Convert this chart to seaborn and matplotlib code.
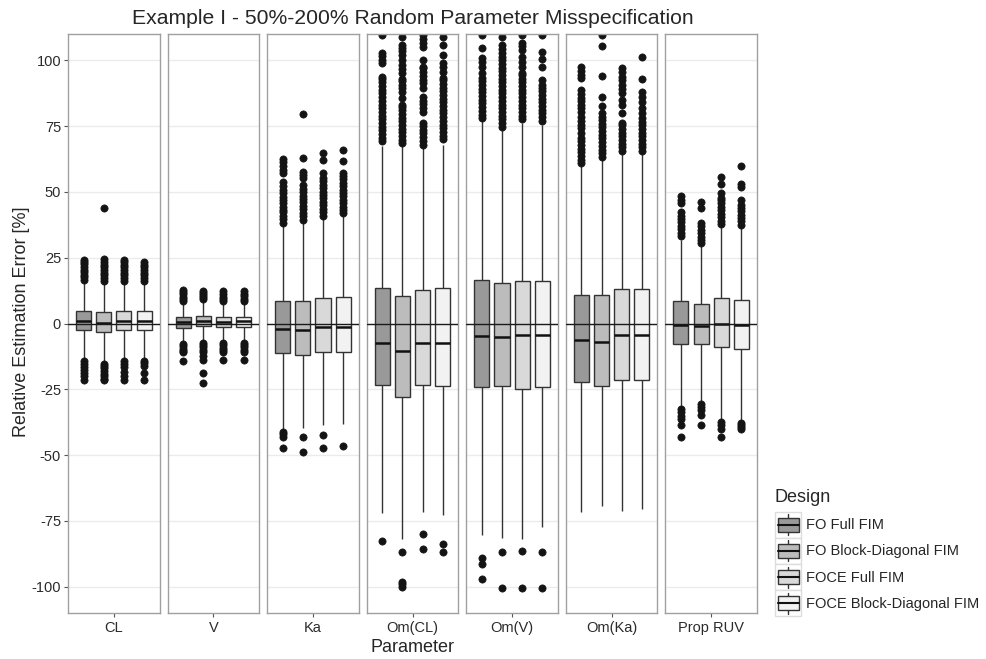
import pandas as pd
import matplotlib
matplotlib.use("Agg")
import matplotlib.pyplot as plt
import seaborn as sns
from matplotlib.patches import Patch, Rectangle
from matplotlib.lines import Line2D
from matplotlib.legend_handler import HandlerBase

# Categories
params = ["CL", "V", "Ka", "Om(CL)", "Om(V)", "Om(Ka)", "Prop RUV"]
designs = ["FO Full FIM", "FO Block-Diagonal FIM", "FOCE Full FIM", "FOCE Block-Diagonal FIM"]
fills = ["#999999", "#BCBCBC", "#D9D9D9", "#F2F2F2"]

# Box summaries: rows = parameter, columns = design
q1 = [
    [-2.5, -3.3, -2.5, -2.5],
    [-1.6, -1.0, -1.4, -1.3],
    [-11.2, -11.9, -11.0, -11.0],
    [-23.2, -28.0, -23.5, -23.8],
    [-24.2, -23.8, -24.7, -24.2],
    [-22.2, -23.6, -21.4, -21.4],
    [-7.7, -7.6, -9.1, -9.5],
]
med = [
    [1.0, 0.3, 1.0, 1.1],
    [0.5, 0.9, 0.5, 0.9],
    [-1.9, -2.3, -1.3, -1.3],
    [-7.3, -10.5, -7.3, -7.3],
    [-4.6, -5.1, -4.4, -4.4],
    [-6.3, -7.1, -4.4, -4.4],
    [-0.6, -1.0, -0.3, -0.6],
]
q3 = [
    [4.9, 4.4, 4.9, 4.9],
    [2.3, 3.0, 2.4, 2.5],
    [8.5, 8.5, 9.6, 10.0],
    [13.6, 10.4, 12.9, 13.6],
    [16.5, 15.5, 16.1, 16.1],
    [10.8, 10.8, 13.2, 13.2],
    [8.5, 7.3, 9.5, 9.1],
]
whis_lo = [
    [-13.0, -14.5, -13.0, -13.0],
    [-7.0, -6.8, -7.0, -6.8],
    [-40.0, -39.6, -38.5, -38.0],
    [-72.0, -82.0, -71.5, -72.9],
    [-80.5, -81.6, -82.0, -77.4],
    [-71.6, -69.5, -71.1, -70.3],
    [-31.5, -29.5, -36.5, -36.5],
]
whis_hi = [
    [15.5, 15.5, 15.5, 15.5],
    [8.0, 8.8, 8.0, 8.0],
    [37.5, 38.8, 40.2, 41.0],
    [67.5, 67.4, 66.5, 68.0],
    [77.0, 73.8, 76.0, 75.3],
    [60.0, 62.0, 64.5, 64.6],
    [31.7, 29.5, 36.5, 36.5],
]

# Outliers (one list per design)
cl_hi = [
    [16.5, 17.5, 18.5, 19.5, 20.5, 21.5, 22.5, 23.5, 24.3],
    [16.3, 17.3, 18.3, 19.3, 20.3, 21.3, 22.3, 23.3, 24.5, 44.0],
    [16.3, 17.3, 18.3, 19.3, 20.3, 21.3, 22.3, 23.3, 24.0],
    [16.3, 17.3, 18.3, 19.3, 20.3, 21.3, 22.3, 23.5],
]
cl_lo = [
    [-14.2, -15.3, -16.5, -17.6, -18.8, -20.0, -21.3],
    [-15.2, -16.0, -17.0, -18.0, -19.0, -20.0, -21.0, -21.5],
    [-14.2, -15.3, -16.5, -18.5, -20.0, -21.3],
    [-14.2, -15.0, -16.0, -18.8, -21.3],
]
v_hi = [
    [8.4, 9.3, 10.2, 11.1, 12.0, 12.6],
    [9.3, 10.1, 10.9, 11.7, 12.5],
    [8.4, 9.3, 10.2, 11.1, 12.3],
    [8.5, 9.4, 10.3, 11.2, 12.5],
]
v_lo = [
    [-7.7, -8.6, -9.5, -10.3, -11.0, -14.3],
    [-7.3, -8.2, -9.1, -10.0, -11.0, -12.5, -14.0, -18.7, -22.7],
    [-7.4, -8.3, -9.2, -10.1, -11.0, -14.0],
    [-7.3, -8.2, -9.1, -10.0, -11.0, -14.0],
]
ka_hi = [
    [38.3, 39.6, 40.9, 42.2, 43.2, 44.4, 45.6, 46.8, 48.2, 49.5, 50.8, 52.1, 53.6, 57.0, 58.4, 59.8, 61.2, 62.6],
    [39.5, 40.8, 42.1, 43.4, 44.7, 46.0, 47.3, 48.6, 49.9, 51.2, 52.6, 55.1, 56.4, 57.6, 62.7, 79.6],
    [41.0, 42.3, 43.6, 44.9, 46.2, 47.5, 48.8, 50.1, 51.4, 52.7, 54.0, 55.3, 57.0, 62.1, 64.9],
    [41.8, 43.1, 44.4, 45.7, 47.0, 48.3, 49.6, 50.9, 52.2, 53.5, 54.8, 56.1, 57.3, 61.7, 65.9],
]
ka_lo = [
    [-41.2, -42.0, -43.0, -47.4],
    [-43.0, -49.0],
    [-42.2, -47.3],
    [-46.4],
]
omcl_hi = [
    [69.2, 70.6, 72.0, 73.4, 74.8, 76.2, 77.6, 79.0, 80.4, 81.8, 83.2, 84.6, 86.0, 87.4, 88.8, 90.2,
     91.6, 93.0, 93.8, 98.9, 100.2, 101.5, 102.7, 109.6],
    [68.4, 69.8, 71.2, 72.6, 74.0, 75.4, 76.8, 78.2, 79.6, 81.0, 82.4, 83.0, 85.5, 88.0, 89.4, 90.8,
     92.2, 93.0, 95.0, 96.6, 98.2, 100.0, 102.0, 103.4, 104.6, 105.8, 108.7],
    [68.0, 69.4, 70.8, 72.2, 73.6, 75.0, 76.0, 80.5, 81.9, 83.3, 84.7, 86.2, 89.4, 91.3, 92.7, 94.1,
     95.5, 96.9, 97.6, 100.0, 105.2, 106.6, 108.0, 109.6],
    [70.0, 71.4, 72.8, 74.2, 75.6, 77.0, 78.4, 79.8, 81.2, 82.6, 84.0, 85.4, 86.8, 88.2, 89.6, 91.0,
     92.4, 93.2, 95.7, 97.3, 98.9, 102.0, 105.8, 109.0],
]
omcl_lo = [
    [-82.8],
    [-87.0, -98.2, -99.1, -100.1],
    [-80.0, -85.7],
    [-83.6, -87.0],
]
omv_hi = [
    [78.0, 79.4, 80.8, 82.2, 83.6, 85.0, 86.4, 87.8, 89.2, 90.6, 92.0, 93.4, 95.0, 97.6, 99.2, 100.8,
     104.6, 109.6],
    [74.8, 76.2, 77.6, 79.0, 80.4, 81.8, 83.2, 84.6, 86.0, 87.4, 88.8, 90.2, 91.6, 93.0, 94.4, 95.8,
     97.2, 98.6, 100.0, 101.4, 102.8, 104.2, 105.8, 109.0],
    [77.6, 79.0, 80.4, 81.8, 83.2, 84.6, 86.0, 87.4, 88.8, 90.2, 91.6, 93.0, 94.4, 95.0, 97.6, 99.5,
     101.4, 104.0, 105.3, 106.5, 109.6],
    [77.0, 78.4, 79.8, 81.2, 82.6, 84.0, 85.4, 86.8, 88.2, 89.6, 90.6, 92.5, 97.6, 100.4, 103.3, 109.6],
]
omv_lo = [
    [-89.0, -91.3, -97.0],
    [-86.8, -100.4],
    [-86.3, -100.4],
    [-86.8, -100.4],
]
omka_hi = [
    [60.8, 62.2, 63.6, 65.0, 66.4, 67.8, 69.2, 70.6, 72.2, 74.1, 75.5, 76.9, 78.3, 80.5, 81.7, 83.0,
     84.4, 85.8, 87.2, 88.7, 93.2, 94.6, 96.1, 97.6],
    [63.3, 64.7, 66.1, 67.5, 68.9, 70.3, 71.7, 73.1, 74.5, 75.9, 77.3, 78.6, 79.8, 82.6, 86.2, 94.0,
     105.6, 109.6],
    [65.5, 66.9, 68.3, 69.7, 71.1, 72.5, 73.9, 75.3, 76.0, 79.8, 83.0, 84.9, 87.5, 89.0, 90.6, 92.5,
     93.8, 95.7, 97.0],
    [65.5, 66.9, 68.3, 69.7, 71.1, 72.5, 73.9, 75.3, 76.7, 77.9, 79.8, 81.7, 84.3, 86.2, 88.0, 92.8,
     101.4],
]
omka_lo = [[], [], [], []]
prop_hi = [
    [33.2, 34.5, 35.8, 37.1, 38.4, 39.7, 41.0, 42.4, 45.7, 47.0, 48.4],
    [30.4, 31.7, 33.0, 34.3, 35.6, 36.9, 38.0, 43.7, 46.2],
    [37.8, 39.1, 40.4, 41.7, 43.0, 44.3, 45.6, 46.9, 47.5, 49.7, 53.0, 55.7],
    [37.5, 38.8, 40.1, 41.4, 42.7, 44.0, 45.0, 47.1, 51.8, 53.0, 59.8],
]
prop_lo = [
    [-32.5, -33.8, -35.0, -36.1, -38.7, -43.3],
    [-30.6, -31.8, -33.0, -34.9, -38.4],
    [-37.5, -38.6, -40.0, -43.1],
    [-37.7, -38.6, -39.5, -40.2],
]

outliers_hi = [cl_hi, v_hi, ka_hi, omcl_hi, omv_hi, omka_hi, prop_hi]
outliers_lo = [cl_lo, v_lo, ka_lo, omcl_lo, omv_lo, omka_lo, prop_lo]

# Long table whose quartiles / whiskers / fliers reproduce the summaries above
# (each quartile value repeated so the percentiles land exactly on it)
m = 200
rows = []
for i, p in enumerate(params):
    for j, d in enumerate(designs):
        vals = (outliers_lo[i][j] + [whis_lo[i][j]] + [q1[i][j]] * m + [med[i][j]] * m
                + [q3[i][j]] * m + [whis_hi[i][j]] + outliers_hi[i][j])
        for v in vals:
            rows.append((p, d, v))
df = pd.DataFrame(rows, columns=["Parameter", "Design", "Error"])

sns.set_style("white")
plt.rcParams["font.family"] = ["Liberation Sans", "DejaVu Sans"]
plt.rcParams["axes.unicode_minus"] = False

fig, axes = plt.subplots(1, 7, sharey=True, figsize=(9.87, 6.59), dpi=100)
fig.subplots_adjust(left=68 / 987, right=757 / 987, top=1 - 34 / 659, bottom=1 - 613 / 659, wspace=0.086)

for i, ax in enumerate(axes):
    sub = df[df["Parameter"] == params[i]]
    sns.boxplot(
        data=sub, x="Parameter", y="Error", hue="Design",
        hue_order=designs, palette=fills, width=1.056, gap=0.25,
        linecolor="#333333", linewidth=1.0, showcaps=False,
        flierprops=dict(marker="o", markerfacecolor="#141414", markeredgecolor="#141414",
                        markersize=5.2, markeredgewidth=0.5),
        medianprops=dict(color="#111111", linewidth=1.8),
        legend=False, ax=ax,
    )
    ax.axhline(0, color="#1a1a1a", lw=1.0, zorder=4)
    ax.set_xlim(-0.6, 0.6)
    ax.set_ylim(-110, 110)
    ax.set_yticks([-100, -75, -50, -25, 0, 25, 50, 75, 100])
    ax.set_axisbelow(True)
    ax.yaxis.grid(True, color="#EBEBEB", lw=1.0)
    ax.xaxis.grid(False)
    ax.set_xlabel("")
    ax.set_ylabel("")
    for s in ax.spines.values():
        s.set_color("#A0A0A0")
        s.set_linewidth(1.0)
        s.set_visible(True)
    ax.tick_params(axis="x", bottom=True, length=3, width=0.8, color="#555555",
                   labelsize=10.5, labelcolor="#2b2b2b", pad=3)
    if i == 0:
        ax.tick_params(axis="y", left=True, length=3, width=0.8, color="#555555",
                       labelsize=10.5, labelcolor="#2b2b2b", pad=2)
    else:
        ax.tick_params(axis="y", left=False, labelleft=False)

fig.text(412.5 / 987, 1 - 18 / 659, "Example I - 50%-200% Random Parameter Misspecification",
         ha="center", va="center", fontsize=15.2)
fig.text(412.5 / 987, 1 - 647 / 659, "Parameter", ha="center", va="center", fontsize=13)
fig.text(22 / 987, 1 - 322 / 659, "Relative Estimation Error [%]", ha="center", va="center",
         rotation=90, fontsize=13)


# legend key drawn as a small boxplot
class BoxKey(HandlerBase):
    def create_artists(self, legend, orig_handle, xdescent, ydescent, width, height, fontsize, trans):
        x0, y0 = -xdescent, -ydescent
        bg = Rectangle((x0, y0), width, height, facecolor="white", edgecolor="#DDDDDD",
                       lw=1.0, transform=trans)
        bw, bh = width * 0.8, height * 0.54
        bx, by = x0 + (width - bw) / 2, y0 + (height - bh) / 2
        cx = x0 + width / 2
        box = Rectangle((bx, by), bw, bh, facecolor=orig_handle.get_facecolor(),
                        edgecolor="#333333", lw=1.0, transform=trans)
        w1 = Line2D([cx, cx], [y0 + height * 0.1, by], color="#333333", lw=1.0, transform=trans)
        w2 = Line2D([cx, cx], [by + bh, y0 + height * 0.9], color="#333333", lw=1.0, transform=trans)
        md = Line2D([bx, bx + bw], [y0 + height / 2] * 2, color="#111111", lw=1.5, transform=trans)
        return [bg, w1, w2, box, md]


handles = [Patch(facecolor=c) for c in fills]
leg = fig.legend(handles, designs, handler_map={Patch: BoxKey()}, loc="upper left",
                 bbox_to_anchor=(775 / 987, 1 - 489 / 659), frameon=False, fontsize=10.5,
                 title="Design", title_fontsize=13, alignment="left",
                 handlelength=1.8, handleheight=2.39, labelspacing=0.0, handletextpad=0.3,
                 borderpad=0.0, borderaxespad=0.0)
leg._legend_box.sep = 4

fig.savefig("out.png", dpi=100)
